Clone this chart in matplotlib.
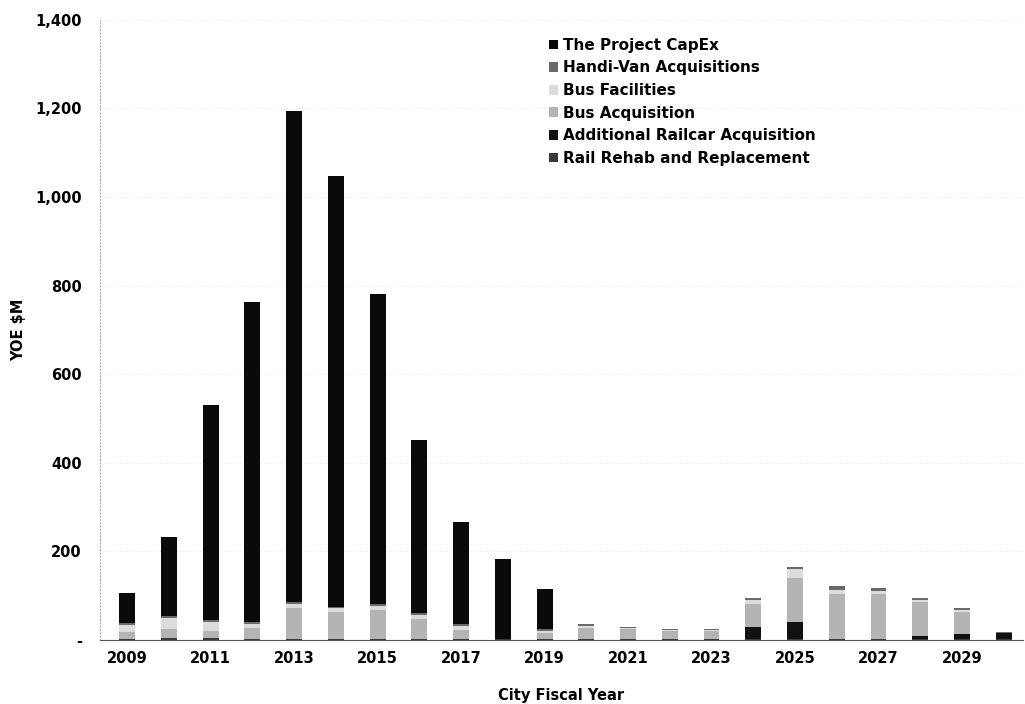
import matplotlib
matplotlib.use("Agg")
import matplotlib.pyplot as plt
import numpy as np

years = list(range(2009, 2031))
rail_rehab = [3, 5, 5, 3, 3, 3, 3, 3, 3, 2, 3, 2, 2, 2, 2, 2, 2, 3, 3, 2, 2, 2]
add_railcar = [0, 0, 0, 0, 0, 0, 0, 0, 0, 0, 0, 0, 0, 0, 0, 28, 38, 0, 0, 6, 12, 13]
bus_acq = [15, 20, 15, 25, 70, 60, 65, 45, 20, 0, 12, 25, 22, 18, 18, 50, 100, 100, 100, 78, 48, 0]
bus_fac = [15, 25, 20, 8, 8, 8, 8, 8, 8, 0, 6, 4, 3, 3, 3, 10, 20, 9, 7, 5, 5, 0]
handivan = [5, 5, 5, 4, 4, 4, 4, 4, 4, 0, 4, 4, 3, 2, 2, 5, 5, 10, 8, 4, 6, 2]
capex = [67, 177, 485, 722, 1108, 973, 700, 392, 232, 180, 90, 0, 0, 0, 0, 0, 0, 0, 0, 0, 0, 0]

series = [
    ("Rail Rehab and Replacement", rail_rehab, "#3a3a3a"),
    ("Additional Railcar Acquisition", add_railcar, "#111111"),
    ("Bus Acquisition", bus_acq, "#b4b4b4"),
    ("Bus Facilities", bus_fac, "#dcdcdc"),
    ("Handi-Van Acquisitions", handivan, "#6a6a6a"),
    ("The Project CapEx", capex, "#0a0a0a"),
]

fig = plt.figure(figsize=(10.25, 7.04), dpi=100)
ax = fig.add_axes([0.0976, 0.091, 0.9, 0.881])

x = np.array(years)
bottom = np.zeros(len(years))
handles = {}
for name, vals, col in series:
    v = np.array(vals, dtype=float)
    b = ax.bar(x, v, width=0.38, bottom=bottom, color=col, edgecolor="none", label=name)
    handles[name] = b
    bottom += v

ax.set_xlim(2008.35, 2030.45)
ax.set_ylim(0, 1400)
ax.set_yticks(range(0, 1401, 200))
ax.set_yticklabels(["-"] + [f"{v:,}" for v in range(200, 1401, 200)])
ax.set_xticks(list(range(2009, 2030, 2)))
ax.set_xticklabels([str(y) for y in range(2009, 2030, 2)])
for lab in ax.get_xticklabels() + ax.get_yticklabels():
    lab.set_fontweight("bold")
    lab.set_fontsize(10.5)
ax.tick_params(axis="both", length=0)
ax.tick_params(axis="x", pad=8)
ax.tick_params(axis="y", pad=13)

ax.yaxis.grid(True, color="#d8d8d8", linestyle=(0, (1, 3)), linewidth=0.6)
ax.set_axisbelow(True)
for s in ["top", "right"]:
    ax.spines[s].set_visible(False)
ax.spines["left"].set_color("#aaaaaa")
ax.spines["left"].set_linestyle((0, (1, 2)))
ax.spines["bottom"].set_color("#555555")

ax.set_ylabel("YOE $M", fontweight="bold", fontsize=10.5)
ax.yaxis.set_label_coords(-0.08, 0.5)
ax.set_xlabel("City Fiscal Year", fontweight="bold", fontsize=10.5, labelpad=16)

order = ["The Project CapEx", "Handi-Van Acquisitions", "Bus Facilities",
         "Bus Acquisition", "Additional Railcar Acquisition", "Rail Rehab and Replacement"]
leg = ax.legend([handles[n] for n in order], order, loc="upper left",
                bbox_to_anchor=(0.472, 0.993), frameon=False,
                prop={"weight": "bold", "size": 11}, handlelength=0.6,
                handleheight=0.6, handletextpad=0.3, labelspacing=0.5)

fig.savefig("out.png", dpi=100)
